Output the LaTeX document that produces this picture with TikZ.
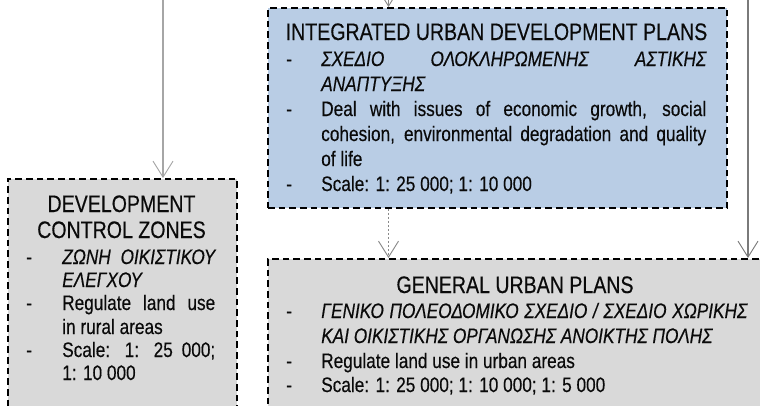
\documentclass[tikz,border=0pt]{standalone}
\usepackage{fontspec}
\setmainfont{Liberation Sans}[FakeStretch=0.82, FakeBold=0.35]
\usetikzlibrary{arrows.meta}

\definecolor{boxgray}{HTML}{D9D9D9}
\definecolor{boxblue}{HTML}{B9CDE5}
\definecolor{linkgray}{HTML}{8A8A8A}
\definecolor{linklight}{HTML}{A6A6A6}
\definecolor{linkdark}{HTML}{7A7A7A}
\definecolor{inkblack}{HTML}{0A0A0A}

\newcommand\bodyfont{\fontsize{15.75pt}{18pt}\selectfont}
\newcommand\headfont{\fontsize{17.9pt}{20pt}\selectfont}
% dash column + justified / ragged line of fixed width
\newcommand\dashcol[1]{\makebox[#1][l]{-}}
\newcommand\fillline[2]{\makebox[#1][s]{#2}}
\newcommand\raggedline[2]{\makebox[#1][l]{#2}}

\begin{document}
\begin{tikzpicture}[x=0.75pt,y=-0.75pt,
  planbox/.style={draw=black, line width=1.4pt, dash pattern=on 5pt off 3pt,
    inner sep=0pt, anchor=north west},
  greybox/.style={planbox, fill=boxgray},
  bluebox/.style={planbox, fill=boxblue},
  ln/.style={inner sep=0pt, anchor=base west, font=\bodyfont, text=inkblack},
  ttl/.style={inner sep=0pt, anchor=base, font=\headfont, text=inkblack},
  link/.style={draw=linkgray, line width=0.8pt,
    -{Straight Barb[length=12pt,width=15pt,line width=0.7pt]}},
  dottedlink/.style={link, dash pattern=on 1.6pt off 1.4pt}]

\useasboundingbox (0,0) rectangle (760,405);
\clip (0,0) rectangle (760,405);

% plan boxes
\node[bluebox, minimum width=344.25pt, minimum height=150pt] (iudp) at (267,7) {};
\node[greybox, minimum width=171.75pt, minimum height=195pt] (dcz) at (7,178) {};
\node[greybox, minimum width=405pt, minimum height=150pt] (gup) at (267,258) {};

% integrated urban development plans
\node[ttl] (iudp-t) at (496.5,40) {INTEGRATED URBAN DEVELOPMENT PLANS};
\node[ln] (iudp-1) at (286,66) {\dashcol{26.25pt}\fillline{288.75pt}{\itshape ΣΧΕΔΙΟ ΟΛΟΚΛΗΡΩΜΕΝΗΣ ΑΣΤΙΚΗΣ}};
\node[ln] (iudp-2) at (321,91) {\raggedline{288.75pt}{\itshape ΑΝΑΠΤΥΞΗΣ}};
\node[ln] (iudp-3) at (286,116) {\dashcol{26.25pt}\fillline{288.75pt}{Deal with issues of economic growth, social}};
\node[ln] (iudp-4) at (321,141) {\fillline{288.75pt}{cohesion, environmental degradation and quality}};
\node[ln] (iudp-5) at (321,166) {\raggedline{288.75pt}{of life}};
\node[ln] (iudp-6) at (286,191) {\dashcol{26.25pt}\raggedline{288.75pt}{Scale: 1: 25 000; 1: 10 000}};

% development control zones
\node[ttl] (dcz-t1) at (121.5,212) {DEVELOPMENT};
\node[ttl] (dcz-t2) at (121.5,238) {CONTROL ZONES};
\node[ln] (dcz-1) at (26,264) {\dashcol{27pt}\fillline{114.75pt}{\itshape ΖΩΝΗ ΟΙΚΙΣΤΙΚΟΥ}};
\node[ln] (dcz-2) at (62,287) {\raggedline{114.75pt}{\itshape ΕΛΕΓΧΟΥ}};
\node[ln] (dcz-3) at (26,310) {\dashcol{27pt}\fillline{114.75pt}{Regulate land use}};
\node[ln] (dcz-4) at (62,334) {\raggedline{114.75pt}{in rural areas}};
\node[ln] (dcz-5) at (26,357) {\dashcol{27pt}\fillline{114.75pt}{Scale: 1: 25 000;}};
\node[ln] (dcz-6) at (62,380) {\raggedline{114.75pt}{1: 10 000}};

% general urban plans
\node[ttl] (gup-t) at (515,293) {GENERAL URBAN PLANS};
\node[ln] (gup-1) at (286,318) {\dashcol{26.25pt}\fillline{319.5pt}{\itshape ΓΕΝΙΚΟ ΠΟΛΕΟΔΟΜΙΚΟ ΣΧΕΔΙΟ / ΣΧΕΔΙΟ ΧΩΡΙΚΗΣ}};
\node[ln] (gup-2) at (321,343) {\raggedline{319.5pt}{\itshape ΚΑΙ ΟΙΚΙΣΤΙΚΗΣ ΟΡΓΑΝΩΣΗΣ ΑΝΟΙΚΤΗΣ ΠΟΛΗΣ}};
\node[ln] (gup-3) at (286,368) {\dashcol{26.25pt}\raggedline{319.5pt}{Regulate land use in urban areas}};
\node[ln] (gup-4) at (286,392) {\dashcol{26.25pt}\raggedline{319.5pt}{Scale: 1: 25 000; 1: 10 000; 1: 5 000}};

% connectors entering from above
\coordinate (from-left) at (163,-5);
\coordinate (from-mid) at (388.5,-40);
\coordinate (from-right) at (748,-5);
\coordinate (mid-x) at (388.5,0);

\draw[link, draw=linklight] (from-left) -- (from-left |- dcz.north);
\draw[link] (from-mid) -- (from-mid |- iudp.north);
\draw[link, draw=linkdark] (from-right) -- (from-right |- gup.north);
\draw[dottedlink] (mid-x |- iudp.south) -- (mid-x |- gup.north);

\end{tikzpicture}
\end{document}
